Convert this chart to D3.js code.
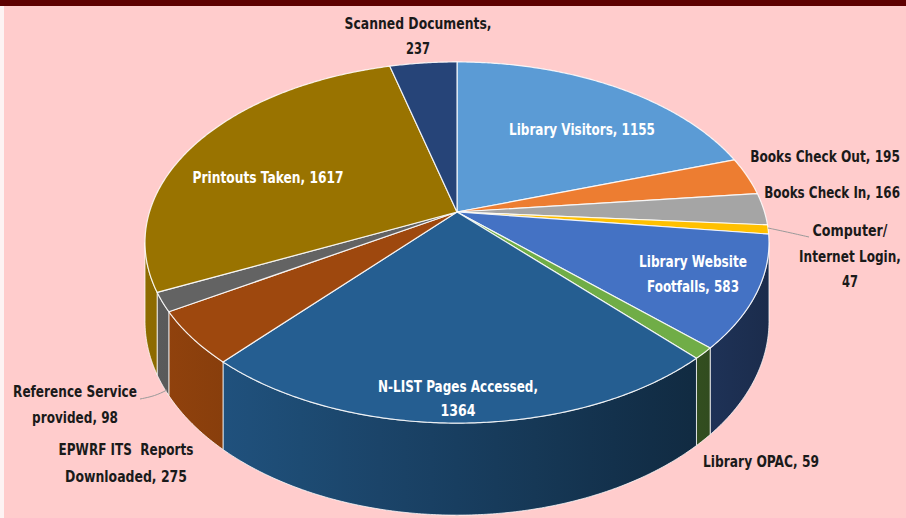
<!DOCTYPE html>
<html>
<head>
<meta charset="utf-8">
<script src="https://cdn.jsdelivr.net/npm/d3@7"></script>
<style>
    html, body { margin: 0; padding: 0; background: #fff; }
    svg { display: block; }
    .lbl {
        font-family: "Liberation Sans Narrow", "Arial Narrow", "DejaVu Sans Condensed", sans-serif;
        font-weight: bold;
        font-size: 15.5px;
    }
</style>
</head>
<body>
<div id="chart"></div>
<script>
// data
const categories = ['Library Visitors', 'Books Check Out', 'Books Check In', 'Computer/Internet Login',
    'Library Website Footfalls', 'Library OPAC', 'N-LIST Pages Accessed', 'EPWRF ITS Reports Downloaded',
    'Reference Service provided', 'Printouts Taken', 'Scanned Documents'];
const values = [1155, 195, 166, 47, 583, 59, 1364, 275, 98, 1617, 237];
const colors = ['#5b9bd5', '#ed7d31', '#a5a5a5', '#ffc000', '#4472c4', '#70ad47',
    '#255e91', '#9e480e', '#636363', '#997300', '#264478'];

// label text as shown on the chart
const labelLines = [
    ['Library Visitors, 1155'], ['Books Check Out, 195'], ['Books Check In, 166'],
    ['Computer/', 'Internet Login,', '47'], ['Library Website', 'Footfalls, 583'], ['Library OPAC, 59'],
    ['N-LIST Pages Accessed,', '1364'], ['EPWRF ITS  Reports', 'Downloaded, 275'],
    ['Reference Service', 'provided, 98'], ['Printouts Taken, 1617'], ['Scanned Documents,', '237']
];

// layout (positions / widths of labels, not data)
const labelPos = [
    {x: 582, y: 135, anchor: 'middle', fill: '#fff'},
    {x: 900, y: 162, anchor: 'end', fill: '#1a1a1a'},
    {x: 900, y: 198, anchor: 'end', fill: '#1a1a1a'},
    {x: 850, y: 236, anchor: 'middle', fill: '#1a1a1a'},
    {x: 693, y: 267, anchor: 'middle', fill: '#fff'},
    {x: 761, y: 467, anchor: 'middle', fill: '#1a1a1a'},
    {x: 458, y: 392, anchor: 'middle', fill: '#fff'},
    {x: 126, y: 455, anchor: 'middle', fill: '#1a1a1a'},
    {x: 75, y: 397, anchor: 'middle', fill: '#1a1a1a'},
    {x: 268, y: 183, anchor: 'middle', fill: '#fff'},
    {x: 418, y: 29, anchor: 'middle', fill: '#1a1a1a'}
];
const lineGap = [0, 0, 0, 25.5, 25, 0, 23.5, 27, 26, 0, 25];
const lineWidths = [[146], [150], [136], [75, 102, 16], [108, 92], [116], [160, 35],
    [135, 122], [124, 86], [151], [147, 24]];

const W = 906, H = 518;
// perspective-ish projection of the pie disk
const cx = 457, cy = 212, A = 307.5, B = 175.4, K = -0.169, DEPTH = 76.5;

function proj(theta, drop) {
    const u = Math.sin(theta), v = -Math.cos(theta);
    const w = 1 + K * v;
    return [cx + A * u / w, cy + (B * v + (drop || 0)) / w];
}

function arcPoints(a0, a1, drop) {
    const n = Math.max(2, Math.ceil((a1 - a0) / 0.008));
    const pts = [];
    for (let i = 0; i <= n; i++) pts.push(proj(a0 + (a1 - a0) * i / n, drop));
    return pts;
}

const svg = d3.select('#chart').append('svg')
    .attr('width', W)
    .attr('height', H);

// background
svg.append('rect').attr('width', W).attr('height', H).attr('fill', '#fdf3f3');
svg.append('rect').attr('x', 4).attr('y', 0).attr('width', W - 4).attr('height', H).attr('fill', '#ffcccc');
svg.append('rect').attr('x', 0).attr('y', 0).attr('width', W).attr('height', 6).attr('fill', '#5e0000');

const pie = d3.pie().sort(null).startAngle(0).endAngle(2 * Math.PI);
const arcs = pie(values);

// visible front part of the side wall
const sil = Math.asin(-K);
const frontStart = Math.PI / 2 + sil, frontEnd = 3 * Math.PI / 2 - sil;

const defs = svg.append('defs');
const shade = u => 0.66 - 0.27 * u;

arcs.forEach((d, i) => {
    const g = defs.append('linearGradient')
        .attr('id', 'wall' + i)
        .attr('gradientUnits', 'userSpaceOnUse')
        .attr('x1', cx - 312).attr('x2', cx + 312)
        .attr('y1', 0).attr('y2', 0);
    const base = d3.rgb(colors[i]);
    d3.range(-1, 1.01, 0.25).forEach(u => {
        const f = shade(u);
        g.append('stop')
            .attr('offset', (u + 1) / 2)
            .attr('stop-color', d3.rgb(base.r * f, base.g * f, base.b * f));
    });
});

const line = d3.line();

// side walls
const wallG = svg.append('g');
arcs.forEach((d, i) => {
    const a0 = Math.max(d.startAngle, frontStart), a1 = Math.min(d.endAngle, frontEnd);
    if (a0 >= a1) return;
    const top = arcPoints(a0, a1, 0);
    const bottom = arcPoints(a0, a1, DEPTH).reverse();
    wallG.append('path')
        .attr('d', line(top.concat(bottom)) + 'Z')
        .attr('fill', `url(#wall${i})`)
        .attr('stroke', '#fff')
        .attr('stroke-opacity', 0.75)
        .attr('stroke-width', 1);
});

// top faces
const topG = svg.append('g');
topG.selectAll('path')
    .data(arcs)
    .join('path')
    .attr('d', d => line([[cx, cy]].concat(arcPoints(d.startAngle, d.endAngle, 0))) + 'Z')
    .attr('fill', (d, i) => colors[i])
    .attr('stroke', '#fff')
    .attr('stroke-opacity', 0.85)
    .attr('stroke-width', 1.2)
    .attr('stroke-linejoin', 'round');

// leader lines
const leaders = [
    [[768, 228], [787, 232], [809, 237]],
    [[167, 390], [155, 396], [140, 399]]
];
svg.append('g').selectAll('path')
    .data(leaders)
    .join('path')
    .attr('d', d => d3.line().curve(d3.curveBasis)(d))
    .attr('fill', 'none')
    .attr('stroke', '#9a9a9a')
    .attr('stroke-width', 1);

// labels: one text per line, squeezed horizontally to the narrow look of the original font
const labelG = svg.append('g');
labelLines.forEach((lines, i) => {
    const p = labelPos[i];
    lines.forEach((s, j) => {
        const t = labelG.append('text')
            .attr('class', 'lbl')
            .attr('text-anchor', p.anchor)
            .attr('fill', p.fill)
            .attr('xml:space', 'preserve')
            .text(s);
        const natural = t.node().getComputedTextLength();
        const sx = lineWidths[i][j] / natural;
        t.attr('transform', `translate(${p.x},${p.y + j * lineGap[i]}) scale(${sx},1)`);
    });
});
</script>
</body>
</html>
